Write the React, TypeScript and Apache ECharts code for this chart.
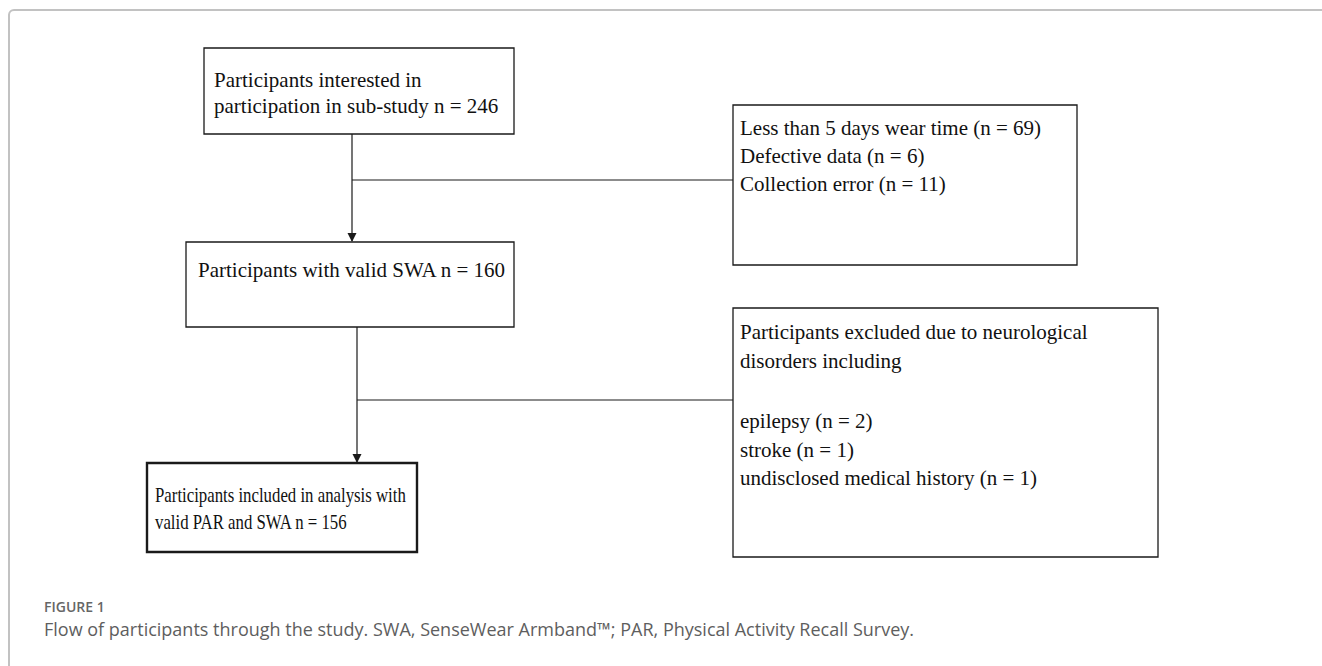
import React, { useEffect, useRef } from "react";
import * as echarts from "echarts";

// ---- content (data) ----
const stageCounts = [246, 160, 156];
const enrolledLines = ["Participants interested in", `participation in sub-study n = ${stageCounts[0]}`];
const validLines = [`Participants with valid SWA n = ${stageCounts[1]}`];
const analysedLines = ["Participants included in analysis with", `valid PAR and SWA n = ${stageCounts[2]}`];
const exclusion1Reasons = ["Less than 5 days wear time", "Defective data", "Collection error"];
const exclusion1Counts = [69, 6, 11];
const exclusion2Header = ["Participants excluded due to neurological", "disorders including"];
const exclusion2Reasons = ["epilepsy", "stroke", "undisclosed medical history"];
const exclusion2Counts = [2, 1, 1];
const figureLabel = "FIGURE 1";
const captionText =
  "Flow of participants through the study. SWA, SenseWear Armband\u2122; PAR, Physical Activity Recall Survey.";

// ---- layout ----
const SERIF = '21px "Liberation Serif", "Times New Roman", serif';
const boxEnrolled = { x: 204, y: 48, w: 310, h: 86 };
const boxValid = { x: 186, y: 242, w: 328, h: 85 };
const boxAnalysed = { x: 147, y: 463, w: 270, h: 89 };
const boxExcl1 = { x: 733, y: 105, w: 344, h: 160 };
const boxExcl2 = { x: 733, y: 308, w: 425, h: 249 };

function rectEl(b: any, lw: number) {
  return {
    type: "rect",
    shape: { x: b.x, y: b.y, width: b.w, height: b.h },
    style: { fill: "#fff", stroke: "#1a1a1a", lineWidth: lw },
  };
}
function lineEl(x1: number, y1: number, x2: number, y2: number) {
  return {
    type: "line",
    shape: { x1, y1, x2, y2 },
    style: { stroke: "#1a1a1a", lineWidth: 1.2 },
  };
}
function arrowHead(x: number, y: number) {
  return {
    type: "polygon",
    shape: { points: [[x - 4.5, y - 9], [x + 4.5, y - 9], [x, y]] },
    style: { fill: "#1a1a1a" },
  };
}
function textEl(t: string, x: number, y: number, font = SERIF, fill = "#111", scaleX = 1) {
  return {
    type: "text",
    x,
    y,
    scaleX,
    style: {
      text: t,
      x: 0,
      y: 0,
      font,
      fill,
      textAlign: "left",
      textVerticalAlign: "middle",
      align: "left",
      verticalAlign: "middle",
    },
  };
}

export default function App() {
  const ref = useRef<HTMLDivElement>(null);
  useEffect(() => {
    document.body.style.margin = "0";
    const chart = echarts.init(ref.current!, null, { renderer: "svg" });
    const els: any[] = [];
    // outer frame
    els.push({
      type: "rect",
      shape: { x: 9, y: 10, width: 1400, height: 800, r: 5 },
      style: { fill: "none", stroke: "#c2c2c2", lineWidth: 2 },
    });
    // connectors
    const x1 = 352;
    els.push(lineEl(x1, boxEnrolled.y + boxEnrolled.h, x1, boxValid.y - 1));
    els.push(arrowHead(x1, boxValid.y));
    els.push(lineEl(x1, 180, boxExcl1.x, 180));
    const x2 = 357;
    els.push(lineEl(x2, boxValid.y + boxValid.h, x2, boxAnalysed.y - 1));
    els.push(arrowHead(x2, boxAnalysed.y));
    els.push(lineEl(x2, 400, boxExcl2.x, 400));
    // boxes
    els.push(rectEl(boxEnrolled, 1.3));
    els.push(rectEl(boxValid, 1.3));
    els.push(rectEl(boxExcl1, 1.3));
    els.push(rectEl(boxExcl2, 1.3));
    els.push(rectEl(boxAnalysed, 2.4));
    // texts
    enrolledLines.forEach((t, i) => els.push(textEl(t, 214, 80 + i * 26)));
    validLines.forEach((t, i) => els.push(textEl(t, 198, 270 + i * 26)));
    analysedLines.forEach((t, i) =>
      els.push(textEl(t, 155, 495 + i * 27, SERIF, "#111", 0.8))
    );
    exclusion1Reasons.forEach((t, i) =>
      els.push(textEl(`${t} (n = ${exclusion1Counts[i]})`, 740, 128 + i * 28))
    );
    exclusion2Header.forEach((t, i) => els.push(textEl(t, 740, 332 + i * 29)));
    exclusion2Reasons.forEach((t, i) =>
      els.push(textEl(`${t} (n = ${exclusion2Counts[i]})`, 740, 421 + i * 28.5))
    );
    // caption
    els.push(textEl(figureLabel, 44, 606, '600 14px "Open Sans", Lato, sans-serif', "#666"));
    els.push(textEl(captionText, 44, 629, '18px "Open Sans", Lato, sans-serif', "#5e5e5e"));

    chart.setOption({
      animation: false,
      backgroundColor: "#fff",
      graphic: { elements: els },
    });
    return () => chart.dispose();
  }, []);
  return <div ref={ref} style={{ width: 1322, height: 666 }} />;
}
